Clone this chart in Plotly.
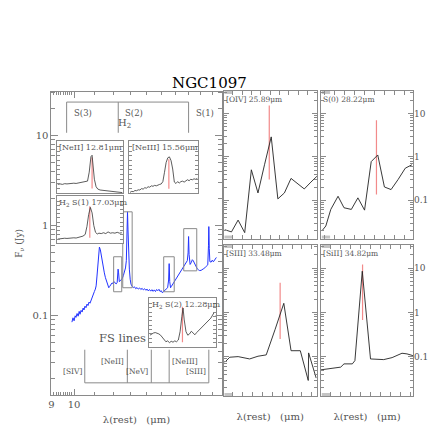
import math
import plotly.graph_objects as go

# the page body has an 8px margin: the figure starts 8px in, so every pixel
# position below (measured on the 436px reference) is shifted back by OFF
OFF = 8
W = 436
H = 436 - 2 * OFF
SERIF = "DejaVu Serif, serif"
GRAY = "#8a8a8a"
TXT = "#555555"
RED = "#f28a8a"

# ---------------- main IRS-SH spectrum ----------------
wave = [9.90, 9.95, 10.00, 10.05, 10.09, 10.14, 10.19, 10.24, 10.28, 10.33,
        10.38, 10.43, 10.47, 10.52, 10.57, 10.62, 10.67, 10.72, 10.77, 10.82,
        10.88, 10.94, 10.99, 11.04, 11.08, 11.12, 11.16, 11.21, 11.25, 11.30,
        11.34, 11.39, 11.45, 11.51, 11.57, 11.63, 11.69, 11.75, 11.80, 11.86,
        11.93, 11.99, 12.04, 12.10, 12.16, 12.22, 12.27, 12.30, 12.34, 12.40,
        12.46, 12.52, 12.58, 12.64, 12.70, 12.75, 12.79, 12.82, 12.85, 12.89,
        12.93, 12.98, 13.03, 13.10, 13.17, 13.24, 13.32, 13.40, 13.48, 13.56,
        13.64, 13.72, 13.80, 13.88, 13.96, 14.04, 14.12, 14.20, 14.28, 14.36,
        14.44, 14.52, 14.60, 14.68, 14.76, 14.84, 14.92, 15.00, 15.08, 15.16,
        15.24, 15.34, 15.45, 15.52, 15.56, 15.60, 15.66, 15.72, 15.80, 15.88,
        15.95, 16.03, 16.11, 16.20, 16.28, 16.36, 16.45, 16.54, 16.63, 16.73,
        16.83, 16.93, 16.99, 17.03, 17.07, 17.15, 17.24, 17.33, 17.40, 17.50,
        17.62, 17.72, 17.82, 17.93, 18.05, 18.17, 18.28, 18.40, 18.52, 18.62,
        18.68, 18.71, 18.75, 18.80, 18.91, 19.01, 19.11, 19.21, 19.30, 19.38]
flux = [0.085, 0.095, 0.088, 0.100, 0.096, 0.106, 0.099, 0.112, 0.104, 0.115,
        0.110, 0.122, 0.116, 0.128, 0.123, 0.135, 0.130, 0.142, 0.138, 0.150,
        0.160, 0.175, 0.186, 0.198, 0.215, 0.270, 0.330, 0.470, 0.580, 0.540,
        0.470, 0.420, 0.350, 0.300, 0.265, 0.240, 0.220, 0.205, 0.212, 0.225,
        0.232, 0.228, 0.240, 0.232, 0.226, 0.235, 0.330, 0.300, 0.240, 0.245,
        0.252, 0.262, 0.282, 0.305, 0.340, 0.410, 0.800, 1.430, 0.900, 0.450,
        0.330, 0.255, 0.225, 0.212, 0.206, 0.210, 0.200, 0.206, 0.198, 0.204,
        0.196, 0.202, 0.194, 0.200, 0.192, 0.198, 0.189, 0.196, 0.188, 0.195,
        0.187, 0.194, 0.186, 0.196, 0.190, 0.197, 0.186, 0.190, 0.180, 0.186,
        0.192, 0.198, 0.205, 0.250, 0.380, 0.240, 0.205, 0.212, 0.222, 0.232,
        0.242, 0.250, 0.262, 0.273, 0.290, 0.305, 0.325, 0.340, 0.352, 0.370,
        0.395, 0.410, 0.500, 0.760, 0.480, 0.372, 0.390, 0.420, 0.410, 0.385,
        0.350, 0.335, 0.325, 0.318, 0.320, 0.325, 0.335, 0.345, 0.355, 0.368,
        0.600, 0.980, 0.560, 0.400, 0.395, 0.415, 0.398, 0.420, 0.430, 0.445]

# boxes marking the zoomed line regions
box_lo = [12.02, 12.54, 15.17, 16.65]
box_hi = [12.48, 13.10, 15.93, 17.69]
box_bot = [0.185, 0.205, 0.185, 0.316]
box_top = [0.453, 1.43, 0.453, 0.93]

h2_names = ["S(3)", "S(2)", "S(1)"]
h2_wave = [9.66, 12.28, 17.03]
h2_top, h2_bot = 23.7, 10.8

fs_names = ["[SIV]", "[NeII]", "[NeV]", "[NeIII]", "[SIII]"]
fs_wave = [10.51, 12.81, 14.32, 15.56, 18.71]
fs_label_y = [0.0239, 0.0308, 0.0239, 0.0308, 0.0239]
fs_top, fs_bot = 0.042, 0.018

# ---------------- insets (relative flux) ----------------
neii_w = [12.51, 12.53, 12.55, 12.57, 12.59, 12.61, 12.63, 12.65, 12.67, 12.69,
          12.71, 12.73, 12.75, 12.77, 12.785, 12.80, 12.81, 12.82, 12.83, 12.845,
          12.86, 12.88, 12.90, 12.92, 12.94, 12.96, 12.98, 13.00, 13.02, 13.04,
          13.06, 13.075]
neii_f = [0.19, 0.20, 0.19, 0.205, 0.20, 0.21, 0.205, 0.215, 0.21, 0.22,
          0.215, 0.225, 0.235, 0.26, 0.45, 0.78, 0.81, 0.60, 0.30, 0.14,
          0.09, 0.07, 0.065, 0.06, 0.05, 0.045, 0.05, 0.035, 0.04, 0.025,
          0.02, 0.015]
neiii_w = [15.205, 15.22, 15.235, 15.25, 15.265, 15.28, 15.295, 15.31, 15.325, 15.34,
           15.355, 15.37, 15.385, 15.40, 15.415, 15.43, 15.445, 15.46, 15.475, 15.49,
           15.505, 15.52, 15.535, 15.55, 15.565, 15.58, 15.595, 15.61, 15.625, 15.64,
           15.655, 15.67, 15.685, 15.70, 15.715, 15.73, 15.745, 15.76, 15.775, 15.79,
           15.805, 15.82]
neiii_f = [0.02, 0.04, 0.035, 0.06, 0.055, 0.075, 0.07, 0.10, 0.09, 0.12,
           0.11, 0.14, 0.13, 0.16, 0.15, 0.17, 0.16, 0.18, 0.19, 0.20,
           0.25, 0.45, 0.66, 0.76, 0.78, 0.70, 0.52, 0.24, 0.21, 0.25,
           0.22, 0.25, 0.26, 0.24, 0.27, 0.29, 0.27, 0.30, 0.29, 0.31,
           0.30, 0.32]
h2s1_w = [16.75, 16.77, 16.79, 16.81, 16.83, 16.85, 16.87, 16.89, 16.91, 16.93,
          16.95, 16.97, 16.99, 17.005, 17.02, 17.035, 17.05, 17.065, 17.08, 17.095,
          17.11, 17.13, 17.15, 17.17, 17.19, 17.21, 17.23, 17.25, 17.27, 17.29, 17.31]
h2s1_f = [0.10, 0.11, 0.105, 0.12, 0.115, 0.125, 0.12, 0.13, 0.125, 0.14,
          0.15, 0.17, 0.21, 0.40, 0.68, 0.85, 0.72, 0.42, 0.26, 0.22,
          0.24, 0.23, 0.25, 0.23, 0.27, 0.24, 0.25, 0.24, 0.26, 0.24, 0.25]
h2s2_w = [12.005, 12.02, 12.035, 12.05, 12.065, 12.08, 12.095, 12.11, 12.125, 12.14,
          12.155, 12.17, 12.185, 12.20, 12.215, 12.23, 12.245, 12.26, 12.275, 12.285,
          12.295, 12.31, 12.325, 12.34, 12.355, 12.37, 12.385, 12.40, 12.415, 12.43,
          12.445, 12.46, 12.475, 12.49, 12.505, 12.52, 12.535, 12.55]
h2s2_f = [0.27, 0.30, 0.32, 0.33, 0.32, 0.30, 0.27, 0.22, 0.15, 0.12,
          0.14, 0.10, 0.13, 0.11, 0.14, 0.12, 0.16, 0.35, 0.70, 0.89,
          0.62, 0.35, 0.27, 0.30, 0.36, 0.31, 0.28, 0.33, 0.37, 0.41,
          0.45, 0.49, 0.53, 0.57, 0.60, 0.66, 0.73, 0.80]

# ---------------- IRS-LH line panels (Jy) ----------------
oiv_w = [25.414, 25.485, 25.556, 25.627, 25.698, 25.769, 25.839, 25.911,
         25.982, 26.052, 26.123, 26.195, 26.265, 26.336, 26.407]
oiv_f = [0.021, 0.0187, 0.035, 0.018, 0.505, 0.148, 0.66, 2.9,
         0.108, 0.148, 0.32, 0.242, 0.183, 0.263, 0.37]
s0_w = [27.67, 27.71, 27.76, 27.833, 27.893, 27.967, 28.033, 28.10,
        28.167, 28.233, 28.30, 28.367, 28.437, 28.51, 28.577]
s0_f = [0.0197, 0.0256, 0.0617, 0.124, 0.0674, 0.0617, 0.114, 0.0594,
        0.78, 1.11, 0.203, 0.177, 0.30, 0.55, 0.66]
siii_w = [32.923, 32.973, 33.057, 33.173, 33.257, 33.34, 33.43, 33.517,
          33.59, 33.683, 33.763, 33.767, 33.843]
siii_f = [0.076, 0.0985, 0.1016, 0.090, 0.1037, 0.111, 0.42, 1.61,
          0.138, 0.138, 0.0295, 0.123, 0.0334]
siii_w2 = [34.40, 34.517, 34.60, 34.633, 34.717, 34.743, 34.817, 34.90,
           34.967, 35.033, 35.117, 35.217, 35.267, 35.327]
siii_f2 = [0.0512, 0.0558, 0.0589, 0.0697, 0.0697, 0.0826, 8.5, 0.090,
           0.090, 0.087, 0.0964, 0.121, 0.117, 0.107]


def xdom(a, b):
    return [(a - OFF) / W, (b - OFF) / W]


def ydom(top, bot):
    return [1 - (bot - OFF) / H, 1 - (top - OFF) / H]


fig = go.Figure()
layout = dict(width=W, height=H, margin=dict(l=0, r=0, t=0, b=0),
              paper_bgcolor="white", plot_bgcolor="white", showlegend=False,
              font=dict(family=SERIF, color=TXT))
ann = []
shapes = []

# ---- main panel ----
fig.add_trace(go.Scatter(x=wave, y=flux, mode="lines", xaxis="x", yaxis="y",
                         line=dict(color="#2233ff", width=1)))
for lo, hi, b, t in zip(box_lo, box_hi, box_bot, box_top):
    fig.add_trace(go.Scatter(x=[lo, hi, hi, lo, lo], y=[b, b, t, t, b], mode="lines",
                             xaxis="x", yaxis="y", line=dict(color=GRAY, width=1)))
# H2 bracket
bx, by = [], []
for w_ in h2_wave:
    bx += [w_, w_, None]
    by += [h2_bot, h2_top, None]
bx += [h2_wave[0], h2_wave[-1]]
by += [h2_top, h2_top]
fig.add_trace(go.Scatter(x=bx, y=by, mode="lines", xaxis="x", yaxis="y",
                         line=dict(color=GRAY, width=1)))
# FS bracket
bx, by = [], []
for w_ in fs_wave:
    bx += [w_, w_, None]
    by += [fs_bot, fs_top, None]
bx += [fs_wave[0], fs_wave[-1]]
by += [fs_bot, fs_bot]
fig.add_trace(go.Scatter(x=bx, y=by, mode="lines", xaxis="x", yaxis="y",
                         line=dict(color=GRAY, width=1)))

for name, w_ in zip(h2_names, h2_wave):
    ann.append(dict(x=math.log10(w_), y=math.log10(18), xref="x", yref="y", text=name,
                    showarrow=False, xanchor="left", yanchor="middle", xshift=5,
                    font=dict(size=8.5, color=TXT)))
ann.append(dict(x=math.log10(12.28), y=math.log10(13.6), xref="x", yref="y",
                text="H<sub>2</sub>", showarrow=False, xanchor="left", yanchor="middle",
                xshift=-2, font=dict(size=10, color=TXT)))
fs_side = ["right", "right", "right", "left", "right"]
for name, w_, yy, side in zip(fs_names, fs_wave, fs_label_y, fs_side):
    ann.append(dict(x=math.log10(w_), y=math.log10(yy), xref="x", yref="y", text=name,
                    showarrow=False, xanchor=side, yanchor="middle",
                    xshift=(1 if side == "left" else -1), font=dict(size=7.5, color=TXT)))
ann.append(dict(x=math.log10(14.07), y=math.log10(0.057), xref="x", yref="y", text="FS lines",
                showarrow=False, xanchor="right", yanchor="middle", font=dict(size=11.5, color=TXT)))

minor_y = [m * 10 ** e for e in (-2, -1, 0, 1) for m in range(2, 10)]
layout["xaxis"] = dict(type="log", range=[math.log10(9), math.log10(19.85)],
                       domain=xdom(48.7, 220), anchor="y", showline=True, linecolor=GRAY,
                       mirror="allticks", ticks="inside", ticklen=6, tickcolor=GRAY,
                       tickvals=[9, 10], ticktext=["9", "10"], showgrid=False, zeroline=False,
                       tickfont=dict(size=10, color=TXT),
                       minor=dict(tickvals=[9.1, 9.2, 9.3, 9.4, 9.5, 9.6, 9.7, 9.8, 9.9,
                                            11, 12, 13, 14, 15, 16, 17, 18, 19],
                                  ticks="inside", ticklen=3, tickcolor=GRAY),
                       title=dict(text="λ(rest)   (μm)", standoff=6, font=dict(size=10, color=TXT)))
layout["yaxis"] = dict(type="log", range=[-1.88, 1.49], domain=ydom(91.7, 395), anchor="x",
                       showline=True, linecolor=GRAY, mirror="allticks", ticks="inside",
                       ticklen=7, tickcolor=GRAY, tickvals=[0.1, 1, 10],
                       ticktext=["0.1", "1", "10"], showgrid=False, zeroline=False,
                       tickfont=dict(size=10, color=TXT),
                       minor=dict(tickvals=minor_y, ticks="inside", ticklen=4, tickcolor=GRAY),
                       title=dict(text="F<sub>ν</sub> (Jy)", standoff=8, font=dict(size=9, color=TXT)))

# ---- insets inside the main panel ----
insets = [
    ("6", neii_w, neii_f, 12.81, [0.10, 0.76], [12.50, 13.08], (54, 120.7, 140.7, 193.3), "[NeII] 12.81μm"),
    ("7", neiii_w, neiii_f, 15.56, [0.10, 0.73], [15.20, 15.83], (127.3, 196.7, 141, 193.3), "[NeIII] 15.56μm"),
    ("8", h2s1_w, h2s1_f, 17.03, [0.13, 0.88], [16.74, 17.32], (54, 120.7, 196, 243.3), "H<sub>2</sub> S(1) 17.03μm"),
    ("9", h2s2_w, h2s2_f, 12.28, [0.11, 0.92], [12.00, 12.56], (147.3, 214, 298, 347), "H<sub>2</sub> S(2) 12.28μm"),
]
for k, w_, f_, lc, mk, xr, (x0, x1, y0, y1), title in insets:
    fig.add_trace(go.Scatter(x=[lc, lc], y=mk, mode="lines", xaxis="x" + k, yaxis="y" + k,
                             line=dict(color=RED, width=1.2)))
    fig.add_trace(go.Scatter(x=w_, y=f_, mode="lines", xaxis="x" + k, yaxis="y" + k,
                             line=dict(color="#333333", width=0.8)))
    layout["xaxis" + k] = dict(range=xr, domain=xdom(x0, x1), anchor="y" + k, showline=True,
                               linecolor=GRAY, mirror=True, ticks="", showticklabels=False,
                               showgrid=False, zeroline=False)
    layout["yaxis" + k] = dict(range=[0, 1.12], domain=ydom(y0, y1), anchor="x" + k, showline=True,
                               linecolor=GRAY, mirror="allticks", ticks="inside", ticklen=3,
                               tickcolor=GRAY, dtick=0.1, showticklabels=False,
                               showgrid=False, zeroline=False)
    ann.append(dict(x=0.01, y=1.0, xref="x%s domain" % k, yref="y%s domain" % k, text=title,
                    showarrow=False, xanchor="left", yanchor="top", font=dict(size=8, color=TXT)))

# ---- LH panels on the right ----
panels = [
    ("2", oiv_w, oiv_f, 25.89, [15.4, 0.30], [25.40, 26.40], (222, 316, 91, 238.5), "[OIV] 25.89μm", False),
    ("3", s0_w, s0_f, 28.22, [7.0, 0.136], [27.66, 28.59], (320, 413, 91, 238.5), "S(0) 28.22μm", True),
    ("4", siii_w, siii_f, 33.48, [4.69, 0.253], [32.91, 33.85], (222, 316, 245, 396), "[SIII] 33.48μm", False),
    ("5", siii_w2, siii_f2, 34.82, [12.0, 0.68], [34.40, 35.33], (320, 413, 245, 396), "[SiII] 34.82μm", True),
]
for k, w_, f_, lc, mk, xr, (x0, x1, y0, y1), title, lab in panels:
    fig.add_trace(go.Scatter(x=[lc, lc], y=mk, mode="lines", xaxis="x" + k, yaxis="y" + k,
                             line=dict(color=RED, width=1.2)))
    fig.add_trace(go.Scatter(x=w_, y=f_, mode="lines", xaxis="x" + k, yaxis="y" + k,
                             line=dict(color="#222222", width=0.9)))
    xa = dict(range=xr, domain=xdom(x0, x1), anchor="y" + k, showline=True,
              linecolor=GRAY, mirror="allticks", ticks="inside", ticklen=4,
              tickcolor=GRAY, dtick=0.1, showticklabels=False,
              showgrid=False, zeroline=False)
    if k in ("4", "5"):
        xa["title"] = dict(text="λ(rest)   (μm)", standoff=16, font=dict(size=10, color=TXT))
    layout["xaxis" + k] = xa
    layout["yaxis" + k] = dict(type="log", range=[-1.88, 1.52], domain=ydom(y0, y1),
                               anchor="x" + k, side="right" if lab else "left", showline=True,
                               linecolor=GRAY, mirror="allticks", ticks="inside", ticklen=5,
                               tickcolor=GRAY, tickvals=[0.1, 1, 10], ticktext=["0.1", "1", "10"],
                               showticklabels=lab, tickfont=dict(size=9, color=TXT),
                               ticklabelstandoff=-2,
                               minor=dict(tickvals=minor_y, ticks="inside", ticklen=3, tickcolor=GRAY),
                               showgrid=False, zeroline=False)
    ann.append(dict(x=0.0, y=0.985, xref="x%s domain" % k, yref="y%s domain" % k, text=title,
                    showarrow=False, xanchor="left", yanchor="top", font=dict(size=7.5, color=TXT)))
    # light grey tick clutter at the left corners
    for yy0, yy1 in ((0.0, 0.02), (0.98, 1.0)):
        shapes.append(dict(type="rect", xref="x%s domain" % k, yref="y%s domain" % k,
                           x0=0.01, x1=0.1, y0=yy0, y1=yy1, line=dict(width=0),
                           fillcolor="#c4c4c4", layer="below"))

ann.append(dict(x=(208 - OFF) / W, y=1 - (83 - OFF) / H, xref="paper", yref="paper",
                text="NGC1097", showarrow=False, xanchor="center", yanchor="middle",
                font=dict(size=15, color="black", family=SERIF)))
layout["annotations"] = ann
layout["shapes"] = shapes
fig.update_layout(**layout)
fig.write_html("out.html")
